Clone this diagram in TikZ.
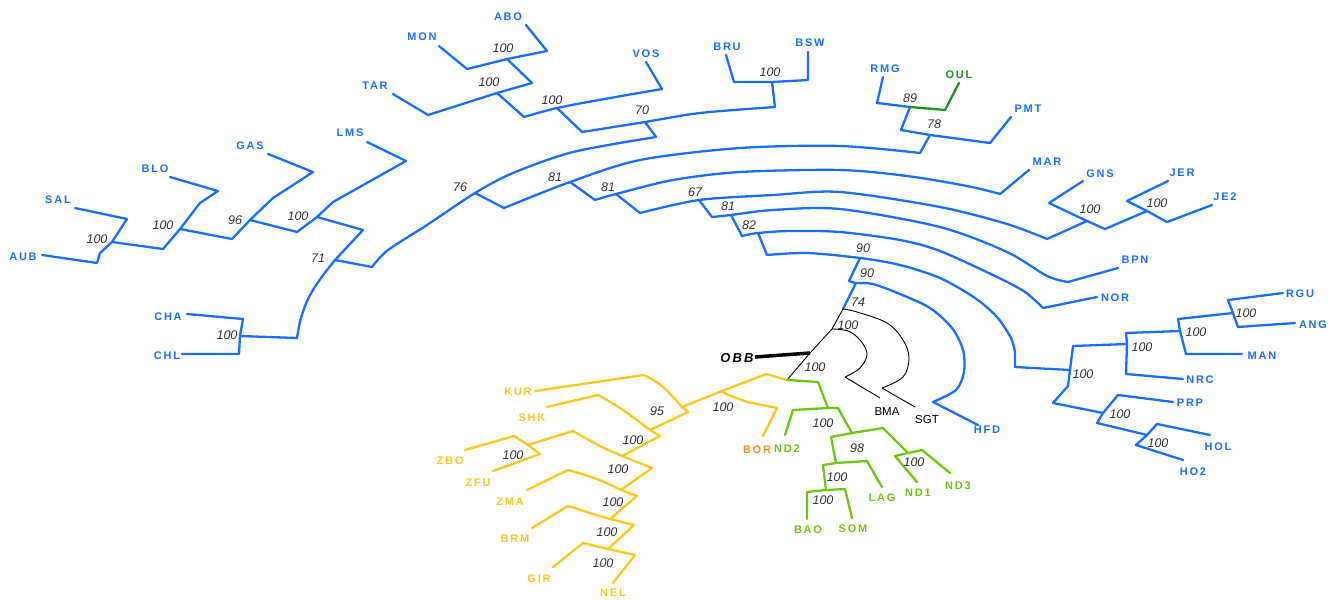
\documentclass[tikz,border=0pt]{standalone}
\usepackage{fontspec}
\setmainfont{Liberation Sans}
\newfontfamily\tipf[LetterSpace=16]{Liberation Sans}
\definecolor{tb}{RGB}{25,110,255}
\definecolor{ty}{RGB}{255,198,30}
\definecolor{tg}{RGB}{105,200,20}
\definecolor{tdg}{RGB}{30,150,30}
\definecolor{tor}{RGB}{255,140,30}
\definecolor{sg}{RGB}{50,50,50}
\tikzset{
 ln/.style={line width=2.3pt, line join=round, line cap=round},
 bl/.style={ln, draw=tb},
 yl/.style={ln, draw=ty},
 gr/.style={ln, draw=tg},
 og/.style={ln, draw=tdg},
 bk/.style={draw=black, line width=0.9pt, line join=round},
 tip/.style={font=\tipf\bfseries\fontsize{11}{12}\selectfont, inner sep=0pt, text=tb},
 tipy/.style={tip, text=ty},
 tipg/.style={tip, text=tg},
 tipk/.style={font=\fontsize{11.5}{12}\selectfont, inner sep=0pt, text=black},
 sup/.style={font=\itshape\fontsize{12.5}{13}\selectfont, text=sg, inner sep=0pt},
}
\begin{document}
\begin{tikzpicture}[x=1pt,y=-1pt]
\useasboundingbox (0,0) rectangle (1334,600);
% ---------- coordinates: blue left group
\coordinate (AUBe) at (42,255);
\coordinate (c1) at (97,263);
\coordinate (n1) at (112,242);
\coordinate (c1b) at (127,219);
\coordinate (SALe) at (75,208);
\coordinate (c2) at (163,249);
\coordinate (n2) at (180,229);
\coordinate (c2b) at (218,191);
\coordinate (BLOe) at (170,177);
\coordinate (c3) at (232,239);
\coordinate (n3) at (250,220);
\coordinate (c3b) at (313,172);
\coordinate (GASe) at (268,154);
\coordinate (c4) at (297,232);
\coordinate (n4) at (317,217);
\coordinate (c4b) at (406,161);
\coordinate (LMSe) at (367,142);
\coordinate (c5) at (363,230);
\coordinate (CHAe) at (187,314);
\coordinate (CHLe) at (182,354);
\coordinate (n6) at (240,336);
\coordinate (c6) at (297,338);
\coordinate (n71) at (335,260);
\coordinate (c7) at (372,267);
\coordinate (n76) at (475,193);
\coordinate (c8) at (656,137);
\coordinate (n70) at (645,122);
\coordinate (c9) at (582,132);
\coordinate (c10) at (775,107);
\coordinate (n11) at (772,82);
\coordinate (BRUe) at (726,55);
\coordinate (BSWe) at (808,52);
\coordinate (n12) at (557,108);
\coordinate (c12a) at (524,117);
\coordinate (c12b) at (662,89);
\coordinate (VOSe) at (646,62);
\coordinate (n13) at (497,93);
\coordinate (c13a) at (428,115);
\coordinate (c13b) at (532,83);
\coordinate (TARe) at (393,94);
\coordinate (n14) at (507,59);
\coordinate (MONe) at (439,46);
\coordinate (ABOe) at (526,25);
% ---------- blue spine and right arcs
\coordinate (c15) at (504,208);
\coordinate (n81a) at (570,182);
\coordinate (c16) at (920,153);
\coordinate (n78) at (930,135);
\coordinate (c17) at (901,130);
\coordinate (c17b) at (990,143);
\coordinate (PMTe) at (1011,117);
\coordinate (n89) at (910,107);
\coordinate (RMGe) at (883,77);
\coordinate (OULe) at (959,83);
\coordinate (c18) at (595,200);
\coordinate (n81b) at (616,194);
\coordinate (c19) at (1000,194);
\coordinate (MARe) at (1029,170);
\coordinate (c20) at (640,213);
\coordinate (n67) at (699,200);
\coordinate (c21) at (1047,239);
\coordinate (n22) at (1087,221);
\coordinate (c22a) at (1049,203);
\coordinate (c22b) at (1105,229);
\coordinate (GNSe) at (1083,181);
\coordinate (n23) at (1147,211);
\coordinate (c23a) at (1127,201);
\coordinate (c23b) at (1167,222);
\coordinate (JERe) at (1168,181);
\coordinate (JE2e) at (1212,205);
\coordinate (c24) at (712,217);
\coordinate (n81c) at (731,215);
\coordinate (c25) at (1068,282);
\coordinate (BPNe) at (1118,268);
\coordinate (c26) at (742,236);
\coordinate (n82) at (758,233);
\coordinate (c27) at (1043,308);
\coordinate (NORe) at (1097,297);
\coordinate (c28) at (767,255);
\coordinate (n90a) at (860,258);
\coordinate (c29) at (1015,367);
\coordinate (c31) at (849,281);
\coordinate (n90b) at (856,283);
\coordinate (c32) at (933,402);
\coordinate (HFDe) at (978,425);
\coordinate (n74) at (843,309);
% big right clade
\coordinate (n30) at (1070,370);
\coordinate (c30a) at (1073,346);
\coordinate (c30b) at (1053,403);
\coordinate (n36) at (1127,344);
\coordinate (c36a) at (1126,333);
\coordinate (c36b) at (1126,374);
\coordinate (NRCe) at (1183,379);
\coordinate (n37) at (1180,331);
\coordinate (c37a) at (1178,319);
\coordinate (c37b) at (1186,354);
\coordinate (MANe) at (1242,354);
\coordinate (n38) at (1233,313);
\coordinate (c38a) at (1228,300);
\coordinate (c38b) at (1238,327);
\coordinate (RGUe) at (1283,293);
\coordinate (ANGe) at (1295,323);
\coordinate (n39) at (1103,413);
\coordinate (c39a) at (1118,395);
\coordinate (c39b) at (1097,423);
\coordinate (PRPe) at (1173,402);
\coordinate (n40) at (1147,435);
\coordinate (c40a) at (1157,424);
\coordinate (c40b) at (1136,445);
\coordinate (HOLe) at (1210,435);
\coordinate (HO2e) at (1183,460);
% black
\coordinate (nB) at (832,329);
\coordinate (nO) at (810,353);
\coordinate (root) at (787,380);
\coordinate (c34) at (882,388);
\coordinate (SGTe) at (915,407);
\coordinate (c35) at (845,377);
\coordinate (BMAe) at (880,398);
\coordinate (OBBe) at (755,357);
% yellow
\coordinate (nY1) at (722,391);
\coordinate (BORe) at (763,436);
\coordinate (nY2) at (682,407);
\coordinate (cY2) at (688,412);
\coordinate (cK) at (644,375);
\coordinate (KURe) at (535,391);
\coordinate (nY3) at (650,430);
\coordinate (cY3) at (660,436);
\coordinate (cS) at (598,395);
\coordinate (SHKe) at (547,407);
\coordinate (nY4) at (622,456);
\coordinate (cY4) at (652,468);
\coordinate (cZ) at (573,431);
\coordinate (nZ) at (528,445);
\coordinate (cZa) at (514,436);
\coordinate (cZb) at (540,454);
\coordinate (ZBOe) at (465,450);
\coordinate (ZFUe) at (493,471);
\coordinate (nY5) at (621,490);
\coordinate (cY5) at (637,496);
\coordinate (cM) at (568,470);
\coordinate (ZMAe) at (527,490);
\coordinate (nY6) at (610,519);
\coordinate (cY6) at (634,525);
\coordinate (cR) at (568,506);
\coordinate (BRMe) at (532,528);
\coordinate (nY7) at (608,549);
\coordinate (cY7) at (635,555);
\coordinate (cG) at (583,543);
\coordinate (GIRe) at (553,567);
\coordinate (NELe) at (613,583);
% green
\coordinate (nG1) at (828,408);
\coordinate (cG1a) at (793,410);
\coordinate (cG1b) at (838,408);
\coordinate (ND2e) at (785,435);
\coordinate (nG2) at (852,433);
\coordinate (cG2a) at (831,437);
\coordinate (cG2b) at (883,428);
\coordinate (nG3) at (908,453);
\coordinate (cG3a) at (895,456);
\coordinate (cG3b) at (922,450);
\coordinate (ND1e) at (917,482);
\coordinate (ND3e) at (950,473);
\coordinate (nG4) at (836,463);
\coordinate (cG4a) at (823,465);
\coordinate (cG4b) at (867,461);
\coordinate (LAGe) at (882,487);
\coordinate (nG5) at (826,490);
\coordinate (cG5a) at (807,492);
\coordinate (cG5b) at (845,489);
\coordinate (BAOe) at (807,519);
\coordinate (SOMe) at (852,518);

% ---------- blue branches, left
\draw[bl] (AUBe) -- (c1) -- (100,253) -- (n1) -- (c1b) -- (SALe);
\draw[bl] (n1) -- (c2) -- (n2) -- (200,203) -- (c2b) -- (BLOe);
\draw[bl] (n2) -- (c3) -- (n3) -- (273,198) -- (c3b) -- (GASe);
\draw[bl] (n3) -- (c4) -- (n4) -- (333,202) -- (c4b) -- (LMSe);
\draw[bl] (n4) -- (c5);
\draw[bl] (CHAe) -- (243,319) -- (n6) -- (239,354) -- (CHLe);
\draw[bl] (n6) -- (c6);
\draw[bl] plot[smooth,tension=0.6] coordinates {(c6) (301,318) (309,297) (321,278) (n71)} -- (c5);
\draw[bl] (n71) -- (c7);
\draw[bl] plot[smooth,tension=0.5] coordinates {(c7) (388,250) (427,225) (n76) (513,173) (573,152) (c8)};
\draw[bl] (c8) -- (n70);
\draw[bl] plot[smooth,tension=0.5] coordinates {(c9) (n70) (700,113) (c10)};
\draw[bl] (c10) -- (n11);
\draw[bl] (BRUe) -- (734,82) -- (n11) -- (808,80) -- (BSWe);
\draw[bl] (c9) -- (n12);
\draw[bl] plot[smooth,tension=0.5] coordinates {(c12a) (n12) (610,98) (c12b)};
\draw[bl] (c12b) -- (VOSe);
\draw[bl] (c12a) -- (n13);
\draw[bl] (TARe) -- (c13a) -- (n13) -- (c13b) -- (n14);
\draw[bl] (MONe) -- (467,69) -- (n14) -- (547,51) -- (ABOe);
% ---------- blue spine, right arcs
\draw[bl] (n76) -- (c15);
\draw[bl] plot[smooth,tension=0.5] coordinates {(c15) (n81a) (640,160) (740,148) (840,146) (c16)};
\draw[bl] (c16) -- (n78);
\draw[bl] (c17) -- (n78) -- (c17b) -- (PMTe);
\draw[bl] (c17) -- (n89);
\draw[bl] (RMGe) -- (877,103) -- (n89);
\draw[og] (n89) -- (945,110) -- (OULe);
\draw[bl] (n81a) -- (c18);
\draw[bl] plot[smooth,tension=0.5] coordinates {(c18) (n81b) (673,180) (740,172) (840,170) (907,176) (967,186) (c19)};
\draw[bl] (c19) -- (MARe);
\draw[bl] (n81b) -- (c20);
\draw[bl] plot[smooth,tension=0.5] coordinates {(c20) (n67) (773,195) (840,192) (940,207) (1007,224) (c21)};
\draw[bl] (c21) -- (n22);
\draw[bl] (GNSe) -- (c22a) -- (n22) -- (c22b) -- (n23);
\draw[bl] (JERe) -- (c23a) -- (n23) -- (c23b) -- (JE2e);
\draw[bl] (n67) -- (c24);
\draw[bl] plot[smooth,tension=0.5] coordinates {(c24) (n81c) (773,210) (840,209) (940,227) (1007,252) (1047,276) (c25)};
\draw[bl] (c25) -- (BPNe);
\draw[bl] (n81c) -- (c26);
\draw[bl] plot[smooth,tension=0.5] coordinates {(c26) (n82) (790,231) (840,232) (900,240) (940,251) (997,277) (1025,292) (c27)};
\draw[bl] (c27) -- (NORe);
\draw[bl] (n82) -- (c28);
\draw[bl] plot[smooth,tension=0.5] coordinates {(c28) (807,253) (n90a) (900,265) (940,278) (975,298) (997,317) (1011,338) (1015,352)} -- (c29);
\draw[bl] (c29) -- (n30);
\draw[bl] (n90a) -- (c31);
\draw[bl] plot[smooth,tension=0.5] coordinates {(c31) (n90b) (873,284) (900,294) (930,308) (952,328) (963,350) (964,372) (956,390) (c32)};
\draw[bl] (c32) -- (HFDe);
\draw[bl] (n90b) -- (n74);
% big right clade
\draw[bl] (c30a) -- (n30) -- (1068,386) -- (c30b);
\draw[bl] (c30a) -- (n36);
\draw[bl] (c36a) -- (n36) -- (c36b) -- (NRCe);
\draw[bl] (c36a) -- (n37);
\draw[bl] (c37a) -- (n37) -- (c37b) -- (MANe);
\draw[bl] (c37a) -- (n38);
\draw[bl] (RGUe) -- (c38a) -- (n38) -- (c38b) -- (ANGe);
\draw[bl] (c30b) -- (n39);
\draw[bl] (PRPe) -- (c39a) -- (n39) -- (c39b) -- (n40);
\draw[bl] (HOLe) -- (c40a) -- (n40) -- (c40b) -- (HO2e);
% ---------- black
\draw[bk] (n74) -- (nB) -- (nO) -- (root);
\draw[bk] plot[smooth,tension=0.6] coordinates {(n74) (857,312) (887,323) (903,340) (909,358) (903,377) (c34)};
\draw[bk] (c34) -- (SGTe);
\draw[bk] plot[smooth,tension=0.6] coordinates {(nB) (848,331) (860,340) (867,354) (860,368) (c35)};
\draw[bk] (c35) -- (BMAe);
\draw[black, line width=3.5pt] (OBBe) -- (nO);
% ---------- yellow
\draw[yl] (root) -- (766,374) -- (nY1);
\draw[yl] (nY1) -- (726,394) -- (747,402) -- (777,408) -- (BORe);
\draw[yl] (nY1) -- (nY2) -- (cY2) -- (nY3) -- (cY3) -- (nY4) -- (cY4) -- (nY5) -- (cY5) -- (nY6) -- (cY6) -- (nY7) -- (cY7) -- (NELe);
\draw[yl] plot[smooth,tension=0.6] coordinates {(nY2) (662,386) (cK)};
\draw[yl] (cK) -- (KURe);
\draw[yl] plot[smooth,tension=0.6] coordinates {(nY3) (623,410) (cS)};
\draw[yl] (cS) -- (SHKe);
\draw[yl] plot[smooth,tension=0.6] coordinates {(nY4) (600,446) (cZ)};
\draw[yl] (cZ) -- (nZ);
\draw[yl] (ZBOe) -- (cZa) -- (nZ) -- (cZb) -- (ZFUe);
\draw[yl] plot[smooth,tension=0.6] coordinates {(nY5) (597,479) (cM)};
\draw[yl] (cM) -- (ZMAe);
\draw[yl] plot[smooth,tension=0.6] coordinates {(nY6) (590,513) (cR)};
\draw[yl] (cR) -- (BRMe);
\draw[yl] (nY7) -- (cG) -- (GIRe);
% ---------- green
\draw[gr] (root) -- (818,382) -- (nG1);
\draw[gr] (ND2e) -- (cG1a) -- (nG1) -- (cG1b) -- (nG2);
\draw[gr] (nG4) -- (cG2a) -- (nG2) -- (cG2b) -- (nG3);
\draw[gr] (ND1e) -- (cG3a) -- (nG3) -- (cG3b) -- (ND3e);
\draw[gr] (nG5) -- (cG4a) -- (nG4) -- (cG4b) -- (LAGe);
\draw[gr] (BAOe) -- (cG5a) -- (nG5) -- (cG5b) -- (SOMe);

% ---------- tip labels
\node[tip] (AUB) at (23,257) {AUB};
\node[tip] (SAL) at (58,200) {SAL};
\node[tip] (BLO) at (155,169) {BLO};
\node[tip] (GAS) at (250,146) {GAS};
\node[tip] (LMS) at (350,133) {LMS};
\node[tip] (TAR) at (375,86) {TAR};
\node[tip] (MON) at (422,37) {MON};
\node[tip] (ABO) at (508,17) {ABO};
\node[tip] (VOS) at (646,54) {VOS};
\node[tip] (BRU) at (727,47) {BRU};
\node[tip] (BSW) at (810,43) {BSW};
\node[tip] (RMG) at (885,69) {RMG};
\node[tip, text=tdg] (OUL) at (959,75) {OUL};
\node[tip] (PMT) at (1028,109) {PMT};
\node[tip] (MAR) at (1047,162) {MAR};
\node[tip] (GNS) at (1100,174) {GNS};
\node[tip] (JER) at (1182,173) {JER};
\node[tip] (JE2) at (1225,197) {JE2};
\node[tip] (BPN) at (1135,260) {BPN};
\node[tip] (NOR) at (1115,298) {NOR};
\node[tip] (RGU) at (1300,294) {RGU};
\node[tip] (ANG) at (1313,325) {ANG};
\node[tip] (MAN) at (1262,356) {MAN};
\node[tip] (NRC) at (1200,380) {NRC};
\node[tip] (PRP) at (1190,403) {PRP};
\node[tip] (HOL) at (1218,447) {HOL};
\node[tip] (HO2) at (1193,472) {HO2};
\node[tip] (HFD) at (987,430) {HFD};
\node[tip] (CHA) at (168,317) {CHA};
\node[tip] (CHL) at (167,356) {CHL};
\node[tipk] (SGT) at (927,420) {SGT};
\node[tipk] (BMA) at (887,412) {BMA};
\node[tip, text=black, font=\tipf\bfseries\itshape\fontsize{13}{13}\selectfont] (OBB) at (737,358) {OBB};
\node[tipy] (KUR) at (518,392) {KUR};
\node[tipy] (SHK) at (532,418) {SHK};
\node[tipy] (ZBO) at (450,461) {ZBO};
\node[tipy] (ZFU) at (478,483) {ZFU};
\node[tipy] (ZMA) at (510,502) {ZMA};
\node[tipy] (BRM) at (515,539) {BRM};
\node[tipy] (GIR) at (539,579) {GIR};
\node[tipy] (NEL) at (613,593) {NEL};
\node[tip, text=tor] (BOR) at (757,450) {BOR};
\node[tipg] (ND2) at (787,449) {ND2};
\node[tipg] (ND1) at (918,493) {ND1};
\node[tipg] (ND3) at (958,486) {ND3};
\node[tipg] (LAG) at (882,498) {LAG};
\node[tipg] (BAO) at (808,530) {BAO};
\node[tipg] (SOM) at (853,529) {SOM};

% ---------- support values
\node[sup] (s1) at (97,239) {100};
\node[sup] (s2) at (163,225) {100};
\node[sup] (s3) at (235,220) {96};
\node[sup] (s4) at (298,216) {100};
\node[sup] (s5) at (318,258) {71};
\node[sup] (s6) at (227,335) {100};
\node[sup] (s7) at (460,187) {76};
\node[sup] (s8) at (642,110) {70};
\node[sup] (s9) at (552,100) {100};
\node[sup] (s10) at (489,82) {100};
\node[sup] (s11) at (503,48) {100};
\node[sup] (s12) at (770,72) {100};
\node[sup] (s13) at (910,98) {89};
\node[sup] (s14) at (934,124) {78};
\node[sup] (s15) at (555,177) {81};
\node[sup] (s16) at (608,187) {81};
\node[sup] (s17) at (695,192) {67};
\node[sup] (s18) at (728,206) {81};
\node[sup] (s19) at (749,225) {82};
\node[sup] (s20) at (1090,209) {100};
\node[sup] (s21) at (1157,203) {100};
\node[sup] (s22) at (863,248) {90};
\node[sup] (s23) at (867,273) {90};
\node[sup] (s24) at (858,302) {74};
\node[sup] (s25) at (848,325) {100};
\node[sup] (s26) at (815,367) {100};
\node[sup] (s27) at (1083,374) {100};
\node[sup] (s28) at (1142,347) {100};
\node[sup] (s29) at (1196,332) {100};
\node[sup] (s30) at (1246,313) {100};
\node[sup] (s31) at (1120,414) {100};
\node[sup] (s32) at (1158,443) {100};
\node[sup] (s33) at (657,411) {95};
\node[sup] (s34) at (723,407) {100};
\node[sup] (s35) at (633,440) {100};
\node[sup] (s36) at (513,455) {100};
\node[sup] (s37) at (618,469) {100};
\node[sup] (s38) at (613,502) {100};
\node[sup] (s39) at (607,532) {100};
\node[sup] (s40) at (603,563) {100};
\node[sup] (s41) at (823,423) {100};
\node[sup] (s42) at (857,448) {98};
\node[sup] (s43) at (837,477) {100};
\node[sup] (s44) at (823,500) {100};
\node[sup] (s45) at (914,462) {100};
\end{tikzpicture}
\end{document}
